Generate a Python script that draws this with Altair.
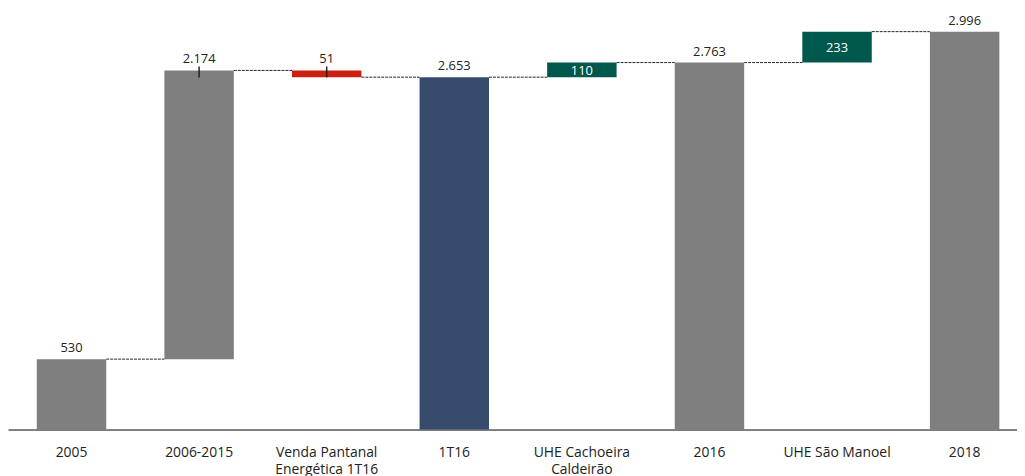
import altair as alt
import pandas as pd

cats = ["2005", "2006-2015", "Venda Pantanal|Energética 1T16", "1T16",
        "UHE Cachoeira|Caldeirão", "2016", "UHE São Manoel", "2018"]
values = [530, 2174, -51, 2653, 110, 2763, 233, 2996]
kinds = ["total", "delta", "delta", "total", "delta", "total", "delta", "total"]
labels = ["530", "2.174", "51", "2.653", "110", "2.763", "233", "2.996"]
colors = ["#7f7f7f", "#7f7f7f", "#cc1f10", "#374c6c", "#00574c", "#7f7f7f", "#00574c", "#7f7f7f"]
inside = [False, False, False, False, True, False, True, False]
tick_cats = ["2006-2015", "Venda Pantanal|Energética 1T16"]

rows = []
run = 0
for c, v, k, lab, col, ins in zip(cats, values, kinds, labels, colors, inside):
    if k == "total":
        s, e = 0, v
    else:
        s, e = run, run + v
    run = e
    rows.append(dict(cat=c, start=s, end=e, top=max(s, e), mid=(s + e) / 2,
                     label=lab, color=col, inside=ins))
df = pd.DataFrame(rows)

conn = pd.DataFrame([dict(cat=cats[i], next=cats[i + 1], level=df["end"][i])
                     for i in range(len(cats) - 1)])
ticks = df[df["cat"].isin(tick_cats)].copy()
ticks["tick_y"] = df[df["cat"] == "2006-2015"]["end"].iloc[0]

xscale = alt.Scale(domain=cats, paddingInner=0.4557, paddingOuter=0.182, align=0.62, round=False)
yscale = alt.Scale(domain=[0, 3160], nice=False, zero=True)

FONT = "Open Sans"

xaxis = alt.Axis(title=None, labelAngle=0, ticks=False, domainColor="#000000", domainWidth=1,
                 labelFont=FONT, labelFontSize=14, labelColor="#222222", labelPadding=16,
                 labelLineHeight=17, labelExpr="split(datum.label, '|')")

base = alt.Chart(df)

bars = base.mark_bar().encode(
    x=alt.X("cat:N", scale=xscale, sort=None, axis=xaxis),
    y=alt.Y("start:Q", scale=yscale, axis=None),
    y2="end:Q",
    color=alt.Color("color:N", scale=None),
)

top_text = base.transform_filter("!datum.inside").mark_text(
    font=FONT, fontSize=13, color="#222222", baseline="alphabetic", dy=-7
).encode(
    x=alt.X("cat:N", scale=xscale, sort=None),
    y=alt.Y("top:Q", scale=yscale),
    text="label:N",
)

in_text = base.transform_filter("datum.inside").mark_text(
    font=FONT, fontSize=13, color="#ffffff", baseline="middle", dy=1
).encode(
    x=alt.X("cat:N", scale=xscale, sort=None),
    y=alt.Y("mid:Q", scale=yscale),
    text="label:N",
)

connectors = alt.Chart(conn).mark_rule(color="#222222", strokeWidth=1, strokeDash=[3, 1]).encode(
    x=alt.X("cat:N", scale=xscale, sort=None, bandPosition=1),
    x2=alt.X2("next:N", bandPosition=0),
    y=alt.Y("level:Q", scale=yscale),
)

tick_marks = alt.Chart(ticks).mark_point(
    shape="M0,-0.36L0,0.64", size=484, filled=False, stroke="#222222", strokeWidth=1.5, opacity=1
).encode(
    x=alt.X("cat:N", scale=xscale, sort=None),
    y=alt.Y("tick_y:Q", scale=yscale),
)

chart = alt.layer(bars, connectors, tick_marks, top_text, in_text).properties(
    width=1017, height=423,
    autosize=alt.AutoSizeParams(type="none"),
    padding={"left": 0, "right": 0, "top": 0, "bottom": 47},
).configure_view(stroke=None)

chart.save("out.html", embed_options={"renderer": "svg", "actions": False})
